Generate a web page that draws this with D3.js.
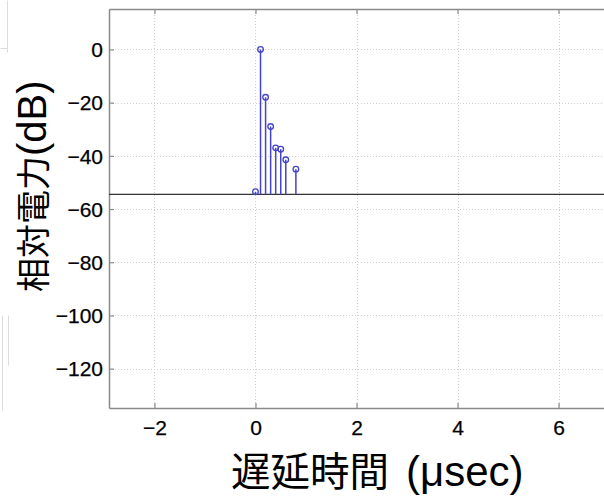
<!DOCTYPE html>
<html>
<head>
<meta charset="utf-8">
<script src="https://cdn.jsdelivr.net/npm/d3@7/dist/d3.min.js"></script>
<style>
  html, body { margin: 0; padding: 0; background: #fff; }
  svg { display: block; }
</style>
</head>
<body>
<div id="chart"></div>
<script>
// Delay profile: stem plot of relative power vs. delay.
const W = 604, H = 499;

const delays = [0, 0.1, 0.2, 0.3, 0.4, 0.5, 0.6, 0.8];      // µsec
const powers = [-53.5, 0, -18, -29, -37, -37.5, -41.5, -45]; // dB
const baseline = -54.5;                                      // dB, stem base / threshold line

const xTicks = [-2, 0, 2, 4, 6];
const yTicks = [0, -20, -40, -60, -80, -100, -120];
const xDomain = [-2.9, 6.9];
const yDomain = [-134.8, 15.2];

// titles split in CJK part + latin part (drawn at different sizes, like the original)
const xLabel = ['遅延時間', '(μsec)'];
const yLabel = ['相対電力', '(dB)'];

const LATIN = '"Liberation Sans", Arial, sans-serif';
const CJK = '"Noto Sans CJK JP", "Noto Sans CJK SC", sans-serif';
const STEM = '#4343cc';
const AXIS = '#8a8a8a';
const GRID = '#cfcfcf';

const plot = { left: 109, top: 9, right: 604, bottom: 408 };

const x = d3.scaleLinear().domain(xDomain).range([plot.left, plot.right]);
const y = d3.scaleLinear().domain(yDomain).range([plot.bottom, plot.top]);

const svg = d3.select('#chart').append('svg')
  .attr('width', W).attr('height', H)
  .attr('viewBox', `0 0 ${W} ${H}`);

// faint leftovers of the neighbouring panel on the far left
svg.append('g').attr('stroke', '#dcdcdc').attr('stroke-width', 1)
  .selectAll('line')
  .data([[7, 0, 7, 52], [0, 48, 7, 48], [2, 315, 2, 410], [8, 315, 8, 365]])
  .join('line')
  .attr('x1', d => d[0] + 0.5).attr('y1', d => d[1] + 0.5)
  .attr('x2', d => d[2] + 0.5).attr('y2', d => d[3] + 0.5);

// grid (dotted)
const grid = svg.append('g').attr('stroke', GRID).attr('stroke-width', 1)
  .attr('stroke-dasharray', '1 2');
grid.selectAll('line.gx').data(xTicks).join('line').attr('class', 'gx')
  .attr('x1', d => Math.round(x(d)) + 0.5).attr('x2', d => Math.round(x(d)) + 0.5)
  .attr('y1', plot.top).attr('y2', plot.bottom);
grid.selectAll('line.gy').data(yTicks).join('line').attr('class', 'gy')
  .attr('y1', d => Math.round(y(d)) + 0.5).attr('y2', d => Math.round(y(d)) + 0.5)
  .attr('x1', plot.left).attr('x2', plot.right);

const fmt = d => d < 0 ? '\u2212' + Math.abs(d) : String(d);

// axes: ticks drawn inward, top edge mirrors the x ticks
const xAxis = svg.append('g')
  .attr('transform', `translate(0,${plot.bottom})`)
  .call(d3.axisBottom(x).tickValues(xTicks).tickSizeInner(-5).tickSizeOuter(0).tickFormat(fmt));
const yAxis = svg.append('g')
  .attr('transform', `translate(${plot.left},0)`)
  .call(d3.axisLeft(y).tickValues(yTicks).tickSizeInner(-5).tickSizeOuter(0).tickFormat(fmt));
const xTop = svg.append('g')
  .attr('transform', `translate(0,${plot.top})`)
  .call(d3.axisTop(x).tickValues(xTicks).tickSizeInner(-5).tickSizeOuter(0).tickFormat(''));

[xAxis, yAxis, xTop].forEach(g => {
  g.select('.domain').attr('stroke', AXIS).attr('stroke-width', 1.5);
  g.selectAll('.tick line').attr('stroke', AXIS).attr('stroke-width', 1.2);
  g.selectAll('.tick text').attr('fill', '#000')
    .attr('font-family', LATIN).attr('font-size', 21)
    .attr('stroke', '#000').attr('stroke-width', 0.25);
});
xAxis.selectAll('.tick text').attr('y', 12).attr('dy', '0.71em');
yAxis.selectAll('.tick text').attr('x', -6).attr('dy', '0.35em');

// threshold line
svg.append('line')
  .attr('x1', plot.left).attr('x2', plot.right)
  .attr('y1', y(baseline)).attr('y2', y(baseline))
  .attr('stroke', '#333').attr('stroke-width', 1.3);

// stems
const pts = delays.map((d, i) => ({ d, p: powers[i] }));
svg.append('g').selectAll('line').data(pts).join('line')
  .attr('x1', v => x(v.d)).attr('x2', v => x(v.d))
  .attr('y1', y(baseline)).attr('y2', v => y(v.p))
  .attr('stroke', STEM).attr('stroke-width', 1.5);
svg.append('g').selectAll('circle').data(pts).join('circle')
  .attr('cx', v => x(v.d)).attr('cy', v => y(v.p)).attr('r', 2.8)
  .attr('fill', 'none').attr('stroke', STEM).attr('stroke-width', 1.3);

// axis titles
const xt = svg.append('text')
  .attr('x', 231).attr('y', 486)
  .attr('fill', '#000');
xt.append('tspan').attr('font-family', CJK).attr('font-size', 39.5).text(xLabel[0]);
xt.append('tspan').attr('dx', 17).attr('font-family', LATIN).attr('font-size', 42).text(xLabel[1]);

const yt = svg.append('text')
  .attr('transform', 'translate(46,292) rotate(-90)')
  .attr('fill', '#000');
yt.append('tspan').attr('font-family', CJK).attr('font-size', 34).text(yLabel[0]);
yt.append('tspan').attr('font-family', LATIN).attr('font-size', 40).text(yLabel[1]);
</script>
</body>
</html>
